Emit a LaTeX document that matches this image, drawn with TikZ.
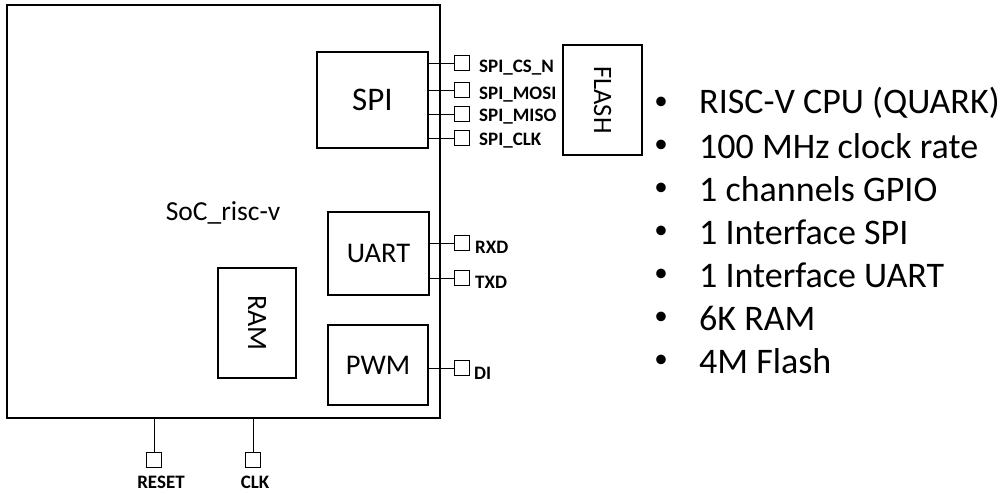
\documentclass[tikz,border=0pt]{standalone}
\usepackage{fontspec}
\setmainfont{Carlito}
\begin{document}
\begin{tikzpicture}[x=1pt,y=-1pt,
  blk/.style={draw,line width=1.6pt,inner sep=0pt},
  pin/.style={draw,line width=1.3pt,minimum size=15pt,inner sep=0pt},
  plab/.style={font=\fontsize{19}{19}\selectfont\bfseries,anchor=west,inner sep=0pt},
  wire/.style={line width=0.9pt},
  bul/.style={font=\fontsize{27}{27}\selectfont,inner sep=0pt},
  btxt/.style={font=\fontsize{36}{36}\selectfont,anchor=west,inner sep=0pt}]
\useasboundingbox (0,0) rectangle (1000,493);
% main box
\node[draw,line width=2pt,minimum width=433pt,minimum height=413pt,inner sep=0pt] (main) at (223.5,211.5) {};
\node[font=\fontsize{27.5}{27.5}\selectfont,inner sep=0pt] (soc) at (223,213) {SoC\_risc-v};
% blocks
\node[blk,minimum width=111pt,minimum height=96pt,font=\fontsize{33}{33}\selectfont] (spi) at (372.5,100) {SPI};
\node[blk,minimum width=101pt,minimum height=83pt,font=\fontsize{28.5}{28.5}\selectfont] (uart) at (378.5,253.5) {UART};
\node[blk,minimum width=100pt,minimum height=80pt,font=\fontsize{28.5}{28.5}\selectfont] (pwm) at (378,365) {PWM};
\node[blk,minimum width=78pt,minimum height=110pt] (ram) at (257,323) {};
\node[font=\fontsize{28}{28}\selectfont,rotate=-90] (ramt) at (257,323) {RAM};
\node[blk,minimum width=79pt,minimum height=110pt] (flash) at (602.5,100) {};
\node[font=\fontsize{26.5}{26.5}\selectfont,rotate=-90] (flasht) at (602.5,100) {FLASH};
% SPI pins
\node[pin] (csn) at (462,63) {};
\node[pin] (mosi) at (462,90) {};
\node[pin] (miso) at (462,114) {};
\node[pin] (sclk) at (462,138) {};
\node[plab] (lcsn) at (479,68) {SPI\_CS\_N};
\node[plab] (lmosi) at (479,95) {SPI\_MOSI};
\node[plab] (lmiso) at (479,117) {SPI\_MISO};
\node[plab] (lsclk) at (479,141) {SPI\_CLK};
\foreach \p in {csn,mosi,miso,sclk} \draw[wire] (spi.east |- \p.west) -- (\p.west);
% UART pins
\node[pin] (rxd) at (462,243) {};
\node[pin] (txd) at (462,278) {};
\node[plab] (lrxd) at (475,247) {RXD};
\node[plab] (ltxd) at (475,282) {TXD};
\draw[wire] (uart.east |- rxd.west) -- (rxd.west);
\draw[wire] (uart.east |- txd.west) -- (txd.west);
% PWM pin
\node[pin] (di) at (462,368) {};
\node[plab] (ldi) at (474,373) {DI};
\draw[wire] (pwm.east |- di.west) -- (di.west);
% bottom pins
\node[pin] (reset) at (154,460) {};
\node[pin] (clk) at (253,460) {};
\node[font=\fontsize{19}{19}\selectfont\bfseries,inner sep=0pt] (lreset) at (161,482) {RESET};
\node[font=\fontsize{19}{19}\selectfont\bfseries,inner sep=0pt] (lclk) at (255,482) {CLK};
\draw[wire] (main.south -| reset.north) -- (reset.north);
\draw[wire] (main.south -| clk.north) -- (clk.north);
% bullets
\foreach \y/\t [count=\i] in {103/RISC-V CPU (QUARK),146/100 MHz clock rate,189/1 channels GPIO,232/1 Interface SPI,275/1 Interface UART,318/6K RAM,361/4M Flash}{
  \node[bul] (b\i) at (661,\y) {•};
  \node[btxt] (t\i) at (699,\y) {\t};
}
\end{tikzpicture}
\end{document}
